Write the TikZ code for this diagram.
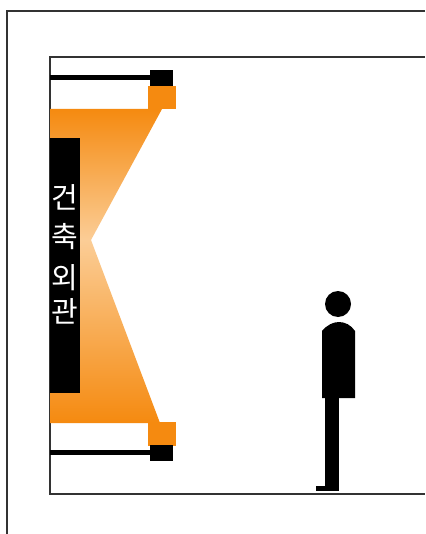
\documentclass[tikz,border=0pt]{standalone}
\usepackage{fontspec}
\usepackage{xcolor}
\usetikzlibrary{positioning}
\newfontfamily\krfont{Noto Sans CJK KR}
\definecolor{lampOrange}{HTML}{F58A10}
\definecolor{glowMid}{HTML}{F7A540}
\definecolor{glowPale}{HTML}{FBCD96}
\definecolor{frameGrey}{HTML}{333333}

\begin{document}
\begin{tikzpicture}[
    x=1pt, y=-1pt,
    frame/.style={draw=frameGrey, line width=#1},
    solid black/.style={fill=black},
    lamp/.style={fill=lampOrange},
    glyph/.style={text=white, font=\krfont\fontsize{29}{29}\selectfont, inner sep=0pt},
]
\useasboundingbox (0,0) rectangle (425,534);
\fill[white] (0,0) rectangle (425,534);

% ── Frames ──
\draw[frame=2pt] (425,11) -- (7,11) -- (7,534);
\draw[frame=2pt] (425,57) -- (50,57) -- (50,494) -- (425,494);

% ── Light cone ──
\shade[top color=lampOrange, middle color=glowMid, bottom color=glowPale] (50,109) -- (162,109) -- (91,240) -- (50,240) -- cycle;
\shade[top color=glowPale, middle color=glowMid, bottom color=lampOrange] (50,240) -- (91,240) -- (160,423) -- (50,423) -- cycle;

% ── Top fixture ──
\fill[solid black] (50,75) rectangle (150,80);
\fill[solid black] (150,70) rectangle (173,86);
\fill[lamp] (148,86) rectangle (176,109);

% ── Bottom fixture ──
\fill[lamp] (148,422) rectangle (176,446);
\fill[solid black] (50,450) rectangle (150,455);
\fill[solid black] (150,445) rectangle (173,461);

% ── Facade ──
\fill[solid black] (50,138) rectangle (80,393);
\node[glyph] (gun) at (65,197) {건};
\node[glyph] (chuk) at (65,237) {축};
\node[glyph] (oe) at (65,278) {외};
\node[glyph] (gwan) at (65,311) {관};

% ── Person ──
\fill[solid black] (338,304) circle (13);
\fill[solid black] (322,398) -- (322,331) .. controls (327,325) and (333,322) .. (339,322) .. controls (345,322) and (351,325) .. (355,331) -- (355,398) -- cycle;
\fill[solid black] (325,398) rectangle (339,491);
\fill[solid black] (316,486) rectangle (326,491);

\end{tikzpicture}
\end{document}
